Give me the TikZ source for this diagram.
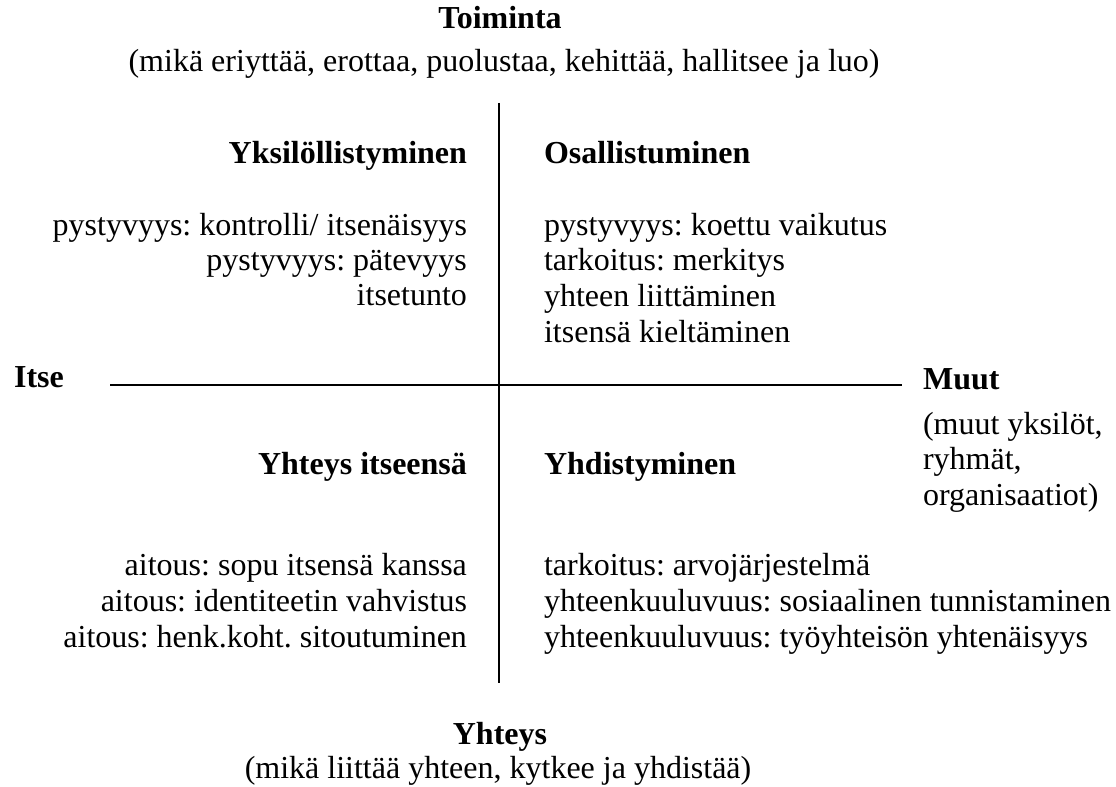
\documentclass[tikz,border=0pt]{standalone}
\usepackage{fontspec}
\setmainfont{Liberation Serif}
\frenchspacing
\begin{document}
\begin{tikzpicture}[x=0.375pt,y=-0.375pt,thick,font=\fontsize{12}{14}\selectfont,
  every node/.style={inner sep=0pt},
  lft/.style={anchor=base east},
  rgt/.style={anchor=base west},
  mid/.style={anchor=base},
  head/.style={font=\fontsize{12}{14}\selectfont\bfseries}]
 \useasboundingbox (0,0) rectangle (1116,787);
 % axes
 \coordinate (top) at (499,103);
 \coordinate (bot) at (499,683);
 \coordinate (west) at (110,385);
 \coordinate (east) at (902,385);
 \draw (top) -- (bot);
 \draw (west) -- (east);
 % axis titles
 \path 	(500,29) 	node[mid,head] (toim) {Toiminta}
 	(504,72) 	node[mid] (toimsub) {(mikä eriyttää, erottaa, puolustaa, kehittää, hallitsee ja luo)}
 	(500,745) 	node[mid,head] (yht) {Yhteys}
 	(498,779) 	node[mid] (yhtsub) {(mikä liittää yhteen, kytkee ja yhdistää)}
 	(13,388) 	node[rgt,head] (itse) {Itse}
 	(922,390) 	node[rgt,head] (muut) {Muut}
 	(922,435) 	node[rgt] (muut1) {(muut yksilöt,}
 	(922,470) 	node[rgt] (muut2) {ryhmät,}
 	(922,506) 	node[rgt] (muut3) {organisaatiot)};
 % upper left
 \path 	(468,164) 	node[lft,head] (yks) {Yksilöllistyminen}
 	(468,236) 	node[lft] (yks1) {pystyvyys: kontrolli/ itsenäisyys}
 	(468,271) 	node[lft] (yks2) {pystyvyys: pätevyys}
 	(468,306) 	node[lft] (yks3) {itsetunto};
 % upper right
 \path 	(543,164) 	node[rgt,head] (osa) {Osallistuminen}
 	(543,236) 	node[rgt] (osa1) {pystyvyys: koettu vaikutus}
 	(543,271) 	node[rgt] (osa2) {tarkoitus: merkitys}
 	(543,307) 	node[rgt] (osa3) {yhteen liittäminen}
 	(543,343) 	node[rgt] (osa4) {itsensä kieltäminen};
 % lower left
 \path 	(468,475) 	node[lft,head] (itsy) {Yhteys itseensä}
 	(468,576) 	node[lft] (itsy1) {aitous: sopu itsensä kanssa}
 	(468,612) 	node[lft] (itsy2) {aitous: identiteetin vahvistus}
 	(468,648) 	node[lft] (itsy3) {aitous: henk.koht. sitoutuminen};
 % lower right
 \path 	(543,475) 	node[rgt,head] (yhd) {Yhdistyminen}
 	(543,576) 	node[rgt] (yhd1) {tarkoitus: arvojärjestelmä}
 	(543,612) 	node[rgt] (yhd2) {yhteenkuuluvuus: sosiaalinen tunnistaminen}
 	(543,648) 	node[rgt] (yhd3) {yhteenkuuluvuus: työyhteisön yhtenäisyys};
\end{tikzpicture}
\end{document}
